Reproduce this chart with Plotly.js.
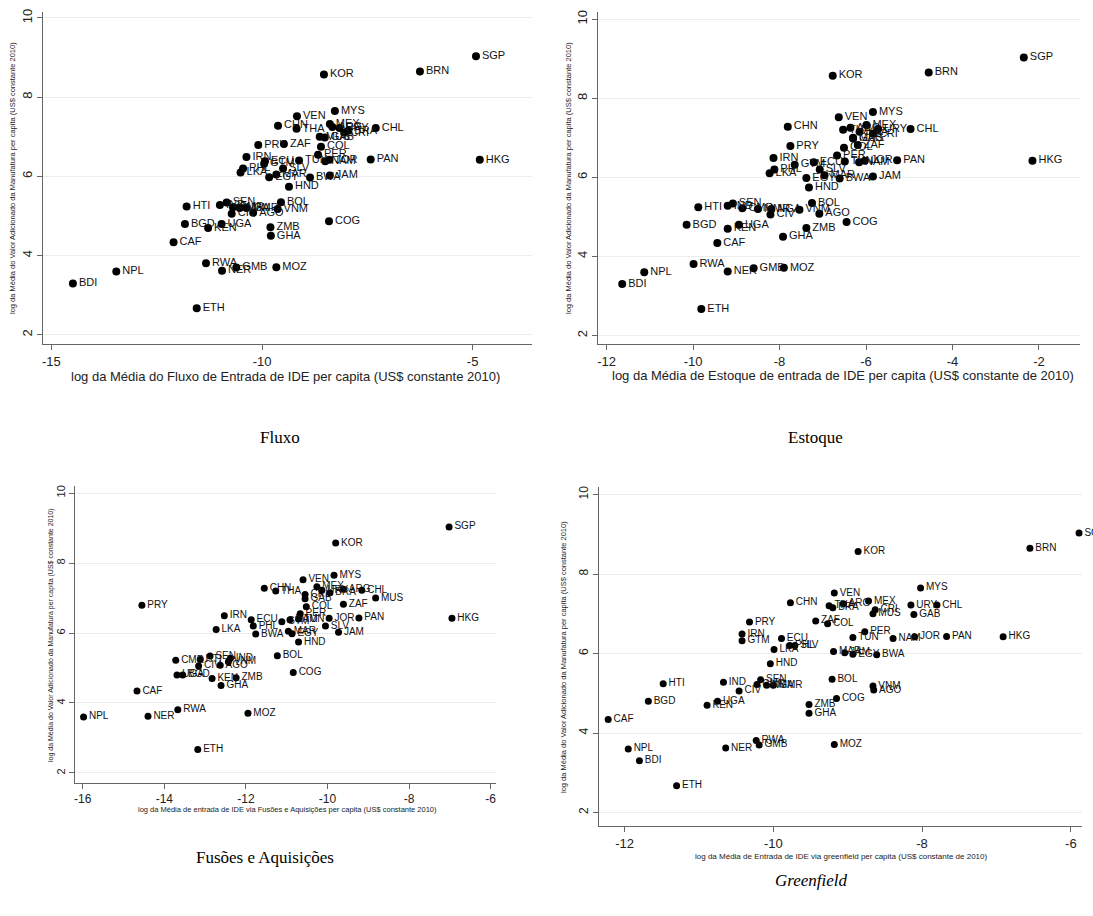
<!DOCTYPE html>
<html>
<head>
<meta charset="utf-8">
<script src="https://cdn.plot.ly/plotly-3.0.1.min.js"></script>
<style>html,body{margin:0;padding:0;background:#fff;}#chart{width:1093px;height:916px;}</style>
</head>
<body>
<div id="chart"></div>
<script>
// ---------- DATA ----------
const countries = ["SGP","BRN","KOR","HKG","MYS","VEN","CHN","THA","MEX","ARG","URY","BRA","CRI","CHL","MUS","GAB","ZAF","COL","PRY","PER","IRN","ECU","GTM","TUN","NAM","JOR","PAN","SLV","PHL","LKA","MAR","EGY","BWA","JAM","HND","BOL","SEN","HTI","IND","CMR","NGA","MMR","VNM","AGO","CIV","COG","BGD","UGA","KEN","ZMB","GHA","CAF","RWA","GMB","MOZ","NER","NPL","BDI","ETH"];
// log of mean manufacturing value added per capita (shared y)
const valorAdicionado = [9.03,8.65,8.57,6.42,7.65,7.52,7.28,7.2,7.32,7.25,7.22,7.15,7.1,7.22,7.0,6.98,6.82,6.75,6.79,6.55,6.49,6.38,6.32,6.4,6.38,6.42,6.43,6.2,6.2,6.1,6.05,5.98,5.97,6.02,5.74,5.35,5.34,5.24,5.28,5.22,5.2,5.2,5.18,5.08,5.06,4.87,4.8,4.8,4.7,4.72,4.5,4.34,3.81,3.7,3.71,3.62,3.6,3.3,2.67];
// log of mean FDI inflow per capita (Fluxo)
const fluxo = [-4.92,-6.25,-8.53,-4.83,-8.27,-9.17,-9.62,-9.18,-8.39,-8.33,-8.16,-7.95,-8.05,-7.3,-8.63,-8.51,-9.48,-8.6,-10.09,-8.67,-10.37,-9.93,-9.95,-9.12,-8.5,-8.4,-7.42,-9.5,-10.45,-10.51,-9.66,-9.83,-8.86,-8.39,-9.36,-9.55,-10.84,-11.79,-11.0,-10.69,-10.53,-10.37,-9.63,-10.21,-10.72,-8.41,-11.83,-10.96,-11.28,-9.8,-9.79,-12.1,-11.33,-10.61,-9.66,-10.95,-13.46,-14.49,-11.55];
// log of mean FDI inward stock per capita (Estoque)
const estoque = [-2.35,-4.55,-6.77,-2.15,-5.84,-6.63,-7.81,-6.53,-5.99,-6.36,-5.72,-6.15,-5.84,-4.97,-6.3,-6.3,-6.19,-6.51,-7.75,-6.67,-8.14,-7.21,-7.65,-6.49,-6.16,-6.03,-5.28,-7.07,-8.12,-8.23,-6.96,-7.38,-6.61,-5.84,-7.32,-7.25,-9.08,-9.88,-9.2,-8.86,-8.19,-8.5,-7.54,-7.08,-8.21,-6.45,-10.15,-8.94,-9.2,-7.38,-7.92,-9.44,-9.99,-8.6,-7.9,-9.2,-11.13,-11.64,-9.81];
// log of mean M&A FDI per capita (Fusões e Aquisições)
const fusoes = [-7.02,null,-9.8,-6.95,-9.84,-10.6,-11.55,-11.27,-10.26,-9.61,-10.14,-9.94,-10.55,-9.16,-8.82,-10.55,-9.61,-10.52,-14.55,-10.67,-12.53,-11.87,-11.12,-10.71,-10.92,-9.96,-9.23,-10.05,-11.82,-12.73,-10.96,-10.87,-11.76,-9.73,-10.71,-11.23,-12.88,-13.12,-12.38,-13.72,null,null,-12.43,-12.63,-13.16,-10.84,-13.55,-13.69,-12.83,-12.24,-12.61,-14.67,-13.67,null,-11.95,-14.4,-15.98,null,-13.18];
// log of mean greenfield FDI per capita (Greenfield)
const greenfield = [-5.89,-6.55,-8.86,-6.91,-8.02,-9.18,-9.77,-9.25,-8.72,-9.06,-8.15,-9.2,-8.63,-7.8,-8.66,-8.11,-9.43,-9.27,-10.32,-8.77,-10.42,-9.89,-10.42,-8.93,-8.39,-8.1,-7.67,-9.71,-9.78,-9.99,-9.19,-8.93,-8.61,-9.04,-10.04,-9.21,-10.17,-11.48,-10.67,-10.22,-10.09,-10.0,-8.66,-8.65,-10.46,-9.15,-11.68,-10.75,-10.89,-9.52,-9.52,-12.22,-10.23,-10.19,-9.18,-10.64,-11.95,-11.8,-11.3];

const yTicks = [2,4,6,8,10];
const xTicksFluxo = [-15,-10,-5];
const xTicksEstoque = [-12,-10,-8,-6,-4,-2];
const xTicksFusoes = [-16,-14,-12,-10,-8,-6];
const xTicksGreen = [-12,-10,-8,-6];

// ---------- BUILD ----------
const W = 1093, H = 916;
const px = v => v / W;
const py = v => 1 - v / H;
const FONT = "Liberation Sans, Arial, Helvetica, sans-serif";

function makeTrace(xs, xa, ya, msize, fsize) {
  const x = [], y = [], t = [];
  xs.forEach((v, i) => { if (v !== null) { x.push(v); y.push(valorAdicionado[i]); t.push(countries[i]); } });
  return {
    type: "scatter", mode: "markers+text", x: x, y: y, text: t,
    textposition: "middle right", cliponaxis: false, hoverinfo: "none",
    marker: { color: "#000", size: msize },
    textfont: { family: FONT, size: fsize, color: "#111" },
    xaxis: xa, yaxis: ya, showlegend: false
  };
}

const data = [
  makeTrace(fluxo, "x", "y", 8, 11),
  makeTrace(estoque, "x2", "y2", 8, 11),
  makeTrace(fusoes, "x3", "y3", 7, 10),
  makeTrace(greenfield, "x4", "y4", 7, 10)
];

function xAxis(dom, range, ticks, anchor, fs) {
  return {
    domain: dom, range: range, anchor: anchor,
    tickmode: "array", tickvals: ticks, ticktext: ticks.map(String),
    showgrid: false, zeroline: false, showline: true, linecolor: "#666", linewidth: 1,
    ticks: "outside", ticklen: 5, tickcolor: "#666",
    tickfont: { family: FONT, size: fs, color: "#222" }
  };
}
function yAxis(dom, range, anchor, fs) {
  return {
    domain: dom, range: range, anchor: anchor,
    tickmode: "array", tickvals: yTicks, ticktext: yTicks.map(String), tickangle: -90,
    showgrid: true, gridcolor: "#ececec", gridwidth: 1,
    zeroline: false, showline: true, linecolor: "#666", linewidth: 1,
    ticks: "outside", ticklen: 5, tickcolor: "#666",
    tickfont: { family: FONT, size: fs, color: "#222" }
  };
}

const yTitle = "log da Média do Valor Adicionado da Manufatura per capita (US$ constante 2010)";
function ann(text, x, y, size, opts) {
  return Object.assign({
    text: text, xref: "paper", yref: "paper", x: px(x), y: py(y),
    xanchor: "center", yanchor: "middle", showarrow: false,
    font: { family: FONT, size: size, color: "#222" }
  }, opts || {});
}
const SERIF = "Liberation Serif, Times New Roman, serif";

const layout = {
  width: W, height: H,
  margin: { l: 0, r: 0, t: 0, b: 0 },
  paper_bgcolor: "#fff", plot_bgcolor: "#fff",
  xaxis: xAxis([px(43), px(532)], [-15.2, -3.59], xTicksFluxo, "y", 13),
  yaxis: yAxis([py(344), py(12)], [1.77, 10.15], "x", 13),
  xaxis2: xAxis([px(598), px(1080)], [-12.2, -1.05], xTicksEstoque, "y2", 13),
  yaxis2: yAxis([py(344), py(12)], [1.785, 10.18], "x2", 13),
  xaxis3: xAxis([px(75), px(496)], [-16.19, -5.87], xTicksFusoes, "y3", 12),
  yaxis3: yAxis([py(783), py(486)], [1.714, 10.2], "x3", 11),
  xaxis4: xAxis([px(598.5), px(1082)], [-12.35, -5.85], xTicksGreen, "y4", 13),
  yaxis4: yAxis([py(826), py(487)], [1.66, 10.19], "x4", 12),
  annotations: [
    ann("log da Média do Fluxo de Entrada de IDE per capita (US$ constante 2010)", 285, 376, 13),
    ann("log da Média de Estoque de entrada de IDE per capita (US$ constante de 2010)", 843, 375, 13),
    ann("log da Média de entrada de IDE via Fusões e Aquisições per capita (US$ constante 2010)", 287, 809, 7.5),
    ann("log da Média de Entrada de IDE via greenfield per capita (US$ constante de 2010)", 841, 856, 8),
    ann(yTitle, 13, 178, 7.5, { textangle: -90 }),
    ann(yTitle, 569, 178, 7.5, { textangle: -90 }),
    ann(yTitle, 51, 635, 7, { textangle: -90 }),
    ann(yTitle, 563, 657, 7.5, { textangle: -90 }),
    ann("Fluxo", 280, 437, 17, { font: { family: SERIF, size: 17, color: "#000" } }),
    ann("Estoque", 815, 437, 17, { font: { family: SERIF, size: 17, color: "#000" } }),
    ann("Fusões e Aquisições", 265, 857, 17, { font: { family: SERIF, size: 17, color: "#000" } }),
    ann("<i>Greenfield</i>", 811, 880, 17, { font: { family: SERIF, size: 17, color: "#000" } })
  ]
};

Plotly.newPlot("chart", data, layout, { staticPlot: true, displayModeBar: false });
</script>
</body>
</html>
